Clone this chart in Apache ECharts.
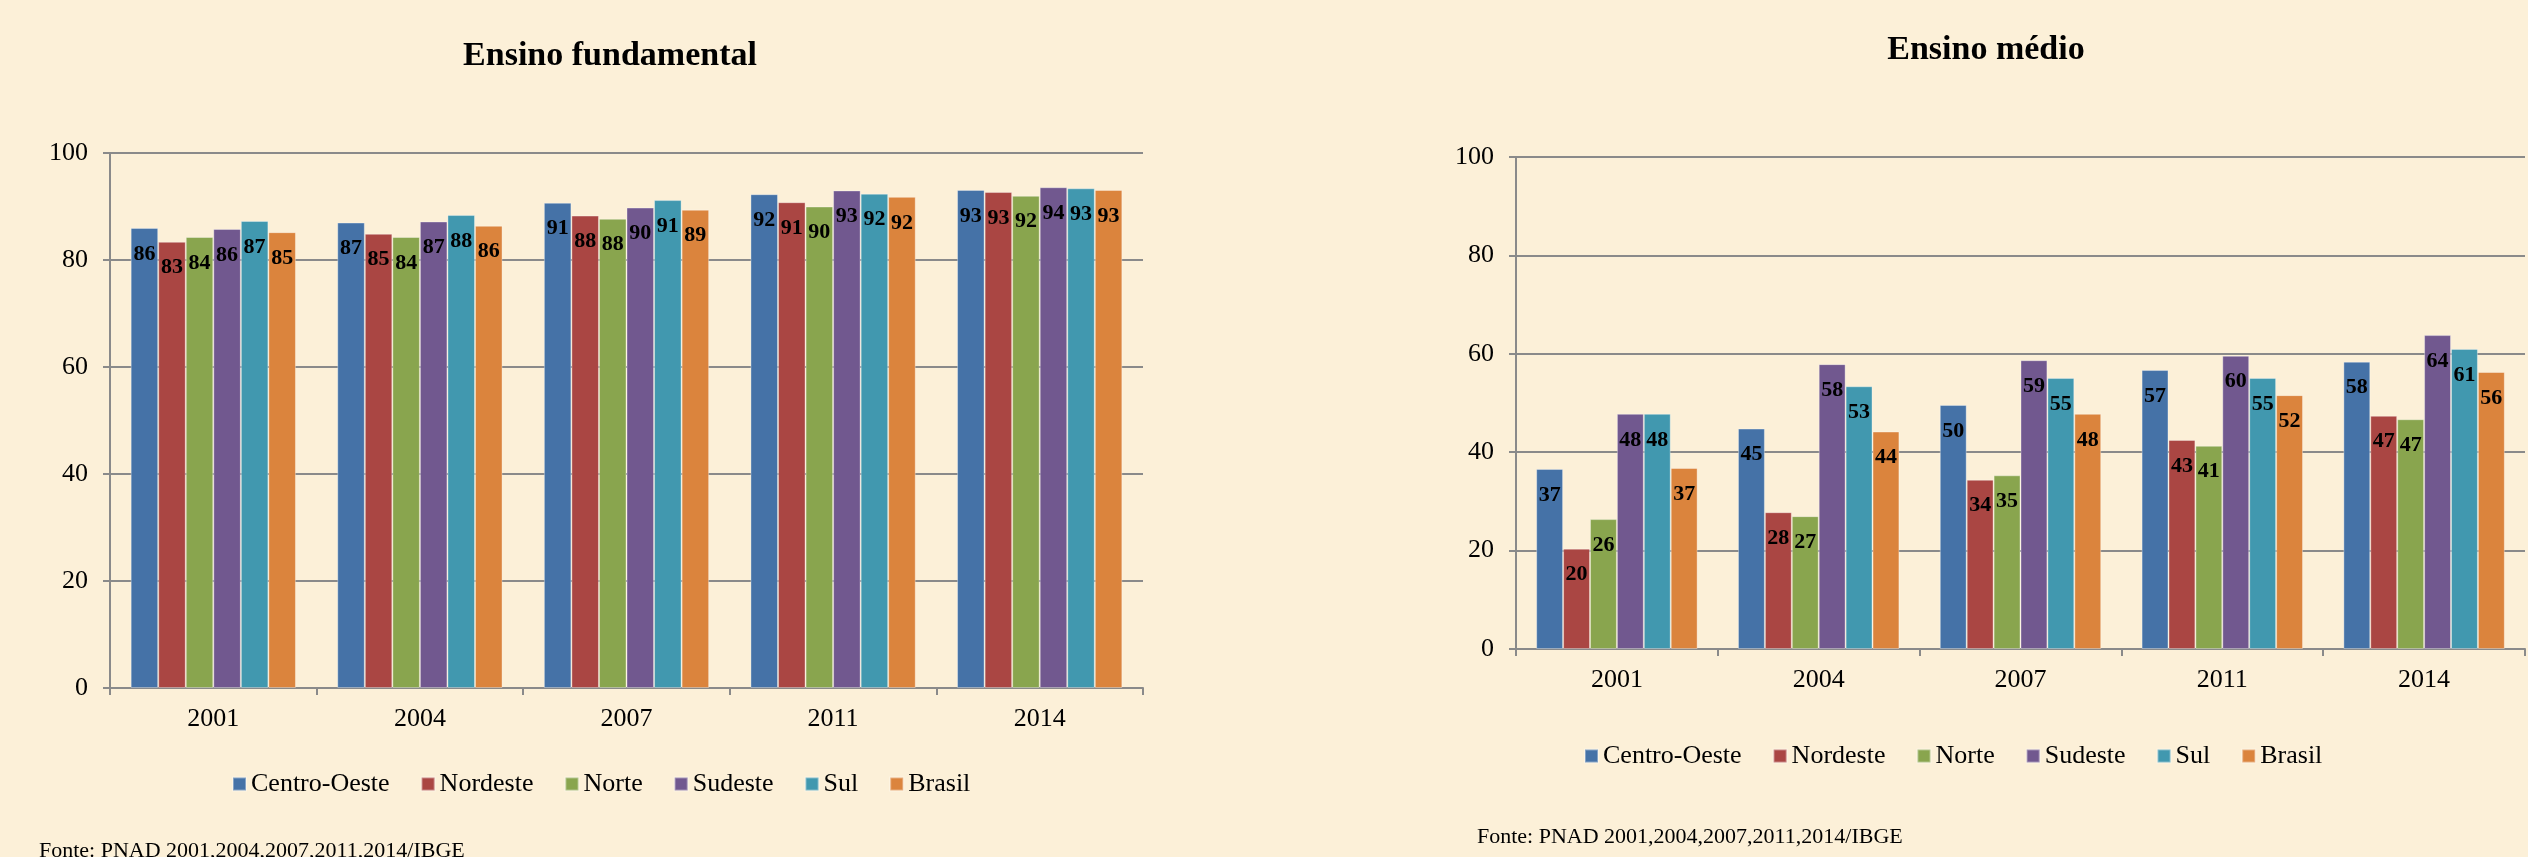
<!DOCTYPE html>
<html>
<head>
<meta charset="utf-8">
<script src="https://cdn.jsdelivr.net/npm/echarts@6/dist/echarts.min.js"></script>
<style>
  html, body { margin: 0; padding: 0; background: #fcf0d8; }
  #main { width: 2528px; height: 857px; }
</style>
</head>
<body>
<div id="main"></div>
<script>
// categories and series names
const years = ['2001', '2004', '2007', '2011', '2014'];
const regions = ['Centro-Oeste', 'Nordeste', 'Norte', 'Sudeste', 'Sul', 'Brasil'];
const colors = ['#4572a7', '#aa4643', '#89a54e', '#71588f', '#4198af', '#db843d'];

// Ensino fundamental, per region, per year
const fundCentroOeste = [86.0, 87.0, 90.7, 92.3, 93.1];
const fundNordeste    = [83.4, 84.9, 88.3, 90.8, 92.7];
const fundNorte       = [84.3, 84.3, 87.7, 90.0, 92.0];
const fundSudeste     = [85.8, 87.2, 89.8, 93.0, 93.6];
const fundSul         = [87.3, 88.4, 91.2, 92.4, 93.4];
const fundBrasil      = [85.2, 86.4, 89.4, 91.8, 93.1];

// Ensino medio, per region, per year
const medCentroOeste = [36.6, 44.8, 49.6, 56.7, 58.4];
const medNordeste    = [20.4, 27.8, 34.4, 42.5, 47.4];
const medNorte       = [26.4, 27.0, 35.3, 41.3, 46.7];
const medSudeste     = [47.8, 57.9, 58.7, 59.6, 63.8];
const medSul         = [47.8, 53.4, 55.1, 55.1, 61.0];
const medBrasil      = [36.8, 44.2, 47.8, 51.6, 56.3];

const yTicks = { min: 0, max: 100, interval: 20 };

const fundData = [fundCentroOeste, fundNordeste, fundNorte, fundSudeste, fundSul, fundBrasil];
const medData = [medCentroOeste, medNordeste, medNorte, medSudeste, medSul, medBrasil];

const FONT = 'Liberation Serif';
const GRAY = '#8a8a8a';

function xAxis(gridIndex) {
    return {
        type: 'category',
        gridIndex: gridIndex,
        data: years,
        axisLine: { lineStyle: { color: GRAY, width: 2 } },
        axisTick: { show: true, length: 7, lineStyle: { color: GRAY, width: 2 } },
        axisLabel: { fontFamily: FONT, fontSize: 26, color: '#000', margin: 18 }
    };
}

function yAxis(gridIndex) {
    return {
        type: 'value',
        gridIndex: gridIndex,
        min: yTicks.min,
        max: yTicks.max,
        interval: yTicks.interval,
        axisLine: { show: true, lineStyle: { color: GRAY, width: 2 } },
        axisTick: { show: true, length: 7, lineStyle: { color: GRAY, width: 2 } },
        splitLine: { lineStyle: { color: GRAY, width: 2 } },
        axisLabel: { fontFamily: FONT, fontSize: 26, color: '#000', margin: 22 }
    };
}

function barSeries(data, axisIndex) {
    return data.map(function (values, i) {
        return {
            type: 'bar',
            name: regions[i],
            xAxisIndex: axisIndex,
            yAxisIndex: axisIndex,
            data: values,
            barGap: '0%',
            barCategoryGap: '20%',
            itemStyle: { color: colors[i], borderColor: 'rgba(255,255,255,0.35)', borderWidth: 1 },
            label: {
                show: true,
                position: 'insideTop',
                distance: 15,
                fontFamily: FONT,
                fontWeight: 'bold',
                fontSize: 22,
                color: '#000',
                formatter: function (p) { return Math.round(p.value); }
            }
        };
    });
}

function legend(left, top) {
    return {
        left: left,
        top: top,
        itemWidth: 13,
        itemHeight: 13,
        itemGap: 31,
        icon: 'rect',
        data: regions,
        textStyle: { fontFamily: FONT, fontSize: 26, color: '#000' }
    };
}

const chart = echarts.init(document.getElementById('main'));

chart.setOption({
    animation: false,
    color: colors,
    textStyle: { fontFamily: FONT },
    title: [
        { text: 'Ensino fundamental', left: 610, top: 39, textAlign: 'center', padding: 0,
          textStyle: { fontFamily: FONT, fontSize: 34, fontWeight: 'bold', color: '#000' } },
        { text: 'Ensino médio', left: 1986, top: 33, textAlign: 'center', padding: 0,
          textStyle: { fontFamily: FONT, fontSize: 34, fontWeight: 'bold', color: '#000' } },
        { text: 'Fonte: PNAD 2001,2004,2007,2011,2014/IBGE', left: 39, top: 840, padding: 0,
          textStyle: { fontFamily: FONT, fontSize: 22, fontWeight: 'normal', color: '#000' } },
        { text: 'Fonte: PNAD 2001,2004,2007,2011,2014/IBGE', left: 1477, top: 826, padding: 0,
          textStyle: { fontFamily: FONT, fontSize: 22, fontWeight: 'normal', color: '#000' } }
    ],
    legend: [legend(227, 766), legend(1579, 738)],
    grid: [
        { left: 110, right: 1385, top: 153, bottom: 169 },
        { left: 1516, right: 3, top: 157, bottom: 208 }
    ],
    xAxis: [xAxis(0), xAxis(1)],
    yAxis: [yAxis(0), yAxis(1)],
    series: barSeries(fundData, 0).concat(barSeries(medData, 1))
});
</script>
</body>
</html>
